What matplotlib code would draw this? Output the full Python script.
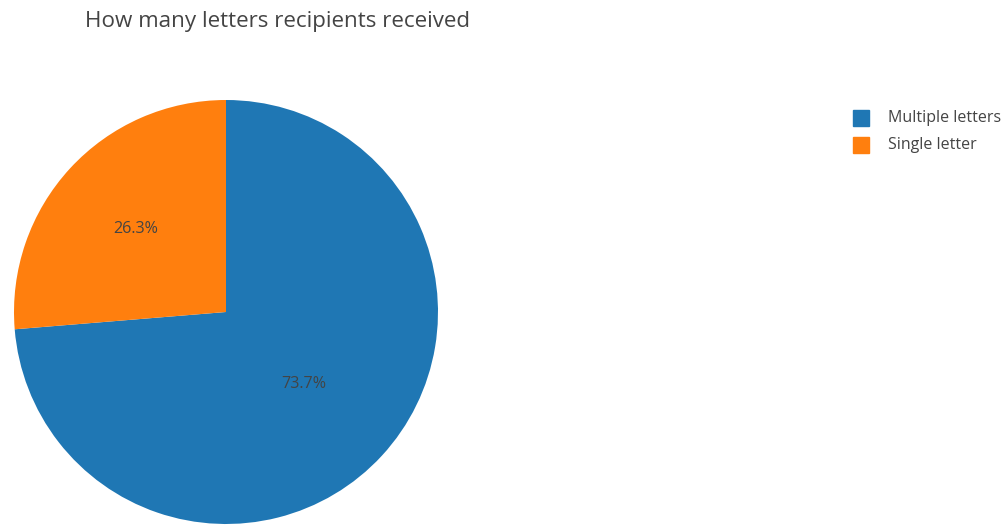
import numpy as np
import matplotlib
matplotlib.use("Agg")
import matplotlib.pyplot as plt
from matplotlib.patches import Rectangle

plt.rcParams['font.family'] = ['Open Sans', 'DejaVu Sans']

labels = ["Multiple letters", "Single letter"]
shares = [73.7, 26.3]
colors = ["#1f77b4", "#ff7f0e"]
text_color = "#444444"

W, H = 1003, 525
fig = plt.figure(figsize=(W / 100, H / 100), dpi=100)

# pie area: centre (226, 312) px from top-left, radius 212 px
cx, cy, r = 226, 312, 212
ax = fig.add_axes([(cx - r) / W, (H - cy - r) / H, 2 * r / W, 2 * r / H])
wedges, _ = ax.pie(shares, colors=colors, startangle=90, counterclock=False,
                   radius=1.0, wedgeprops=dict(linewidth=0))
ax.set_xlim(-1, 1)
ax.set_ylim(-1, 1)
ax.set_aspect("equal")
ax.axis("off")

# percentage labels inside each slice
label_radius = [0.5, 0.58]
start = 0.0
for val, rad in zip(shares, label_radius):
    mid = (start + val / 2) / sum(shares) * 2 * np.pi
    ax.text(rad * np.sin(mid), rad * np.cos(mid), "%.1f%%" % val,
            ha="center", va="center", fontsize=11.6, color=text_color)
    start += val

fig.text(85 / W, 1 - 22 / H, "How many letters recipients received",
         ha="left", va="center", fontsize=16.1, color=text_color)

# legend
for i, (lab, col) in enumerate(zip(labels, colors)):
    y = 118 + 27 * i
    fig.patches.append(Rectangle((853 / W, 1 - (y + 8) / H), 16 / W, 16 / H,
                                 transform=fig.transFigure, color=col))
    fig.text(888 / W, 1 - y / H, lab, ha="left", va="center",
             fontsize=11.5, color=text_color)

fig.savefig("out.png", dpi=100, facecolor="white")
